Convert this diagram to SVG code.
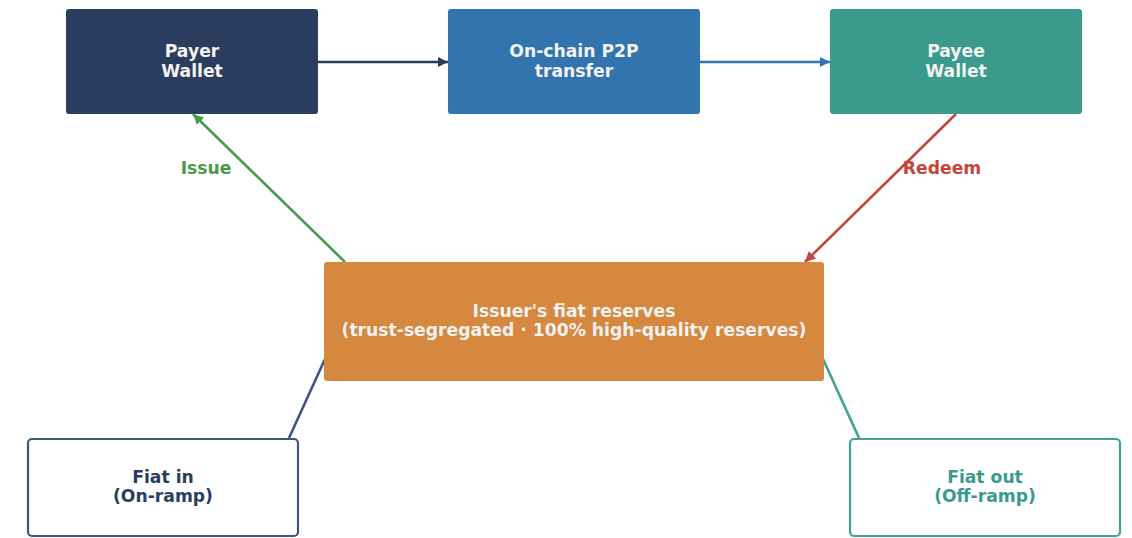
<svg xmlns="http://www.w3.org/2000/svg" width="1132" height="538" viewBox="0 0 1132 538">
  <style>
    text { font-family: "DejaVu Sans", "Noto Sans", sans-serif; font-weight: bold; font-size: 17.2px; text-anchor: middle; dominant-baseline: central; }
    .light { fill: #f2f2f2; }
    .edge { fill: none; stroke-width: 2.6; }
  </style>
  <defs>
    <marker id="ah-navy" viewBox="0 0 10 10" refX="10" refY="5" markerWidth="4" markerHeight="4" orient="auto" markerUnits="strokeWidth">
      <path d="M0,0 L10,5 L0,10 z" fill="#2b3d5e"/>
    </marker>
    <marker id="ah-blue" viewBox="0 0 10 10" refX="10" refY="5" markerWidth="4" markerHeight="4" orient="auto" markerUnits="strokeWidth">
      <path d="M0,0 L10,5 L0,10 z" fill="#3274ad"/>
    </marker>
    <marker id="ah-green" viewBox="0 0 10 10" refX="10" refY="5" markerWidth="4" markerHeight="4" orient="auto" markerUnits="strokeWidth">
      <path d="M0,0 L10,5 L0,10 z" fill="#4a9a4c"/>
    </marker>
    <marker id="ah-red" viewBox="0 0 10 10" refX="10" refY="5" markerWidth="4" markerHeight="4" orient="auto" markerUnits="strokeWidth">
      <path d="M0,0 L10,5 L0,10 z" fill="#c3453b"/>
    </marker>
  </defs>
  <rect width="1132" height="538" fill="#ffffff"/>

  <g id="connectors">
    <line class="edge" x1="318" y1="62" x2="448" y2="62" stroke="#2b3d5e" marker-end="url(#ah-navy)"/>
    <line class="edge" x1="700" y1="62" x2="830" y2="62" stroke="#3274ad" marker-end="url(#ah-blue)"/>
    <line class="edge" x1="345" y1="262" x2="193" y2="114" stroke="#4a9a4c" marker-end="url(#ah-green)"/>
    <line class="edge" x1="956" y1="114" x2="805" y2="262" stroke="#c3453b" marker-end="url(#ah-red)"/>
    <line class="edge" x1="325" y1="359" x2="289" y2="438" stroke="#3d5580"/>
    <line class="edge" x1="823" y1="359" x2="859" y2="438" stroke="#3fa294"/>
    <text x="206" y="168" fill="#4a9a4c">Issue</text>
    <text x="942" y="168" fill="#c3453b">Redeem</text>
  </g>

  <g id="payer">
    <rect x="66" y="9" width="252" height="105" rx="3" fill="#2b3d5e"/>
    <text class="light" x="192" y="51">Payer</text>
    <text class="light" x="192" y="71">Wallet</text>
  </g>
  <g id="p2p">
    <rect x="448" y="9" width="252" height="105" rx="3" fill="#3274ad"/>
    <text class="light" x="574" y="51">On-chain P2P</text>
    <text class="light" x="574" y="71">transfer</text>
  </g>
  <g id="payee">
    <rect x="830" y="9" width="252" height="105" rx="3" fill="#3a9a8c"/>
    <text class="light" x="956" y="51">Payee</text>
    <text class="light" x="956" y="71">Wallet</text>
  </g>
  <g id="reserves">
    <rect x="324" y="262" width="500" height="119" rx="3" fill="#d5883e"/>
    <text class="light" x="574" y="311">Issuer's fiat reserves</text>
    <text class="light" x="574" y="330">(trust-segregated · 100% high-quality reserves)</text>
  </g>
  <g id="fiat-in">
    <rect x="28" y="439" width="270" height="97" rx="4" fill="#ffffff" stroke="#3d5580" stroke-width="2.2"/>
    <text x="163" y="477" fill="#2b3d5e">Fiat in</text>
    <text x="163" y="496" fill="#2b3d5e">(On-ramp)</text>
  </g>
  <g id="fiat-out">
    <rect x="850" y="439" width="270" height="97" rx="4" fill="#ffffff" stroke="#3fa294" stroke-width="2.2"/>
    <text x="985" y="477" fill="#3a9a8c">Fiat out</text>
    <text x="985" y="496" fill="#3a9a8c">(Off-ramp)</text>
  </g>
</svg>
